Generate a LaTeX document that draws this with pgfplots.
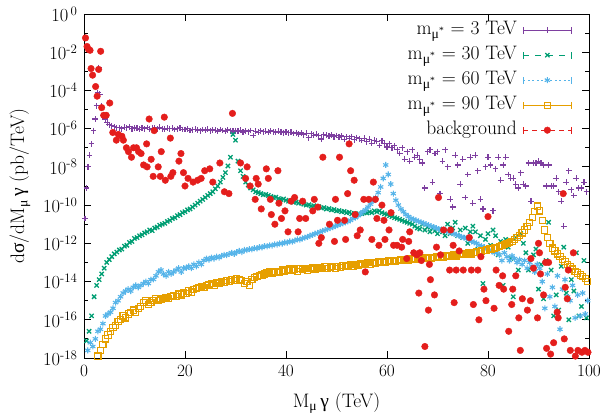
\documentclass[border=0pt]{standalone}
\usepackage{pgfplots}
\pgfplotsset{compat=1.18}
\usepackage{fontspec}
\newfontfamily\gr{Liberation Serif}
\definecolor{pcol}{RGB}{126,63,160}
\definecolor{gcol}{RGB}{0,158,115}
\definecolor{bcol}{RGB}{86,180,233}
\definecolor{ocol}{RGB}{230,159,0}
\definecolor{rcol}{RGB}{228,30,28}
\begin{document}
\begin{tikzpicture}
\useasboundingbox (-84pt,-59pt) rectangle (524pt,358pt);
\begin{axis}[
  scale only axis, width=505pt, height=344pt,
  xmin=0, xmax=100, ymin=1e-18, ymax=1,
  ymode=log,
  xtick={0,20,40,60,80,100},
  ytick={1e-18,1e-16,1e-14,1e-12,1e-10,1e-8,1e-6,1e-4,1e-2,1},
  yticklabels={10\textsuperscript{-18},10\textsuperscript{-16},10\textsuperscript{-14},10\textsuperscript{-12},10\textsuperscript{-10},10\textsuperscript{-8},10\textsuperscript{-6},10\textsuperscript{-4},10\textsuperscript{-2},10\textsuperscript{\,0}},
  minor ytick={1e-17,1e-15,1e-13,1e-11,1e-9,1e-7,1e-5,1e-3,1e-1},
  minor xtick={},
  tick align=inside,
  major tick length=7pt, minor tick length=4pt,
  every tick/.style={black, line width=0.8pt},
  axis line style={line width=0.9pt},
  xticklabel style={font=\fontsize{18.5}{18}\selectfont, yshift=-4pt},
  yticklabel style={font=\fontsize{18.5}{18}\selectfont, xshift=-3pt},
  xlabel={M\textsubscript{\gr μ}\,{\gr γ} (TeV)},
  ylabel={d{\gr σ}/dM\textsubscript{\gr μ}\,{\gr γ} (pb/TeV)},
  xlabel style={font=\fontsize{19.5}{20}\selectfont, at={(axis description cs:0.5,-0.131)}, anchor=center},
  ylabel style={font=\fontsize{19.5}{20}\selectfont, at={(axis description cs:-0.127,0.5)}, anchor=center},
  legend style={draw=none, fill=none, at={(1,1)}, anchor=north east, xshift=-14pt, yshift=-4pt,
    font=\fontsize{19.5}{20}\selectfont, row sep=5pt, column sep=5pt,
    nodes={inner sep=1pt, text height=13pt, text depth=5pt}},
  legend cell align=right,
  legend plot pos=right,
]
% m = 3 TeV
\addplot[only marks, mark=+, color=pcol, mark size=2.9pt, line width=1.15pt,
  legend image code/.code={
    \draw[pcol,line width=0.9pt] (0pt,0pt) -- (48pt,0pt) (0pt,-3.5pt) -- (0pt,3.5pt) (48pt,-3.5pt) -- (48pt,3.5pt);
    \draw[pcol,line width=1.1pt,mark=+,mark size=2.9pt] plot coordinates {(24pt,0pt)};
  }] coordinates {
(0.2,2.0e-11)(0.5,7.9e-10)(0.8,1e-8)(1.1,4.0e-8)(1.5,1.6e-7)(1.9,7.9e-7)(2.2,3.2e-6)(2.5,1.6e-5)(2.7,7.9e-5)(2.9,1.6e-3)
(3.1,6.3e-5)(3.4,1.6e-5)(3.8,5.0e-6)(4.2,3.2e-6)(4.6,2.0e-6)(5.0,1.6e-6)(5.5,1.4e-6)(6.0,1.26e-6)(6.5,1.12e-6)(7.0,1.1e-6)(7.5,1.0e-6)
(8.0,1.2e-6)(8.5,1.1e-6)(9.0,1.25e-6)(9.5,1.0e-6)(10.0,1.12e-6)(10.5,1.05e-6)(11.0,9.5e-7)(11.5,1.1e-6)(12.0,1.0e-6)(12.5,1.15e-6)
(13.0,9.2e-7)(13.5,1.04e-6)(14.0,1.08e-6)(14.5,9.7e-7)(15.0,1.2e-6)(15.5,1.0e-6)(16.0,9.4e-7)(16.5,1.07e-6)(17.0,9.9e-7)(17.5,1.05e-6)
(18.0,9.0e-7)(18.5,1.0e-6)(19.0,1.1e-6)(19.5,9.1e-7)(20.0,9.1e-7)(20.5,9.8e-7)(21.0,8.1e-7)(21.5,8.9e-7)(22.0,9.5e-7)(22.5,8.5e-7)
(23.0,7.8e-7)(23.5,9.1e-7)(24.0,8.3e-7)(24.5,9.3e-7)(25.0,7.9e-7)(25.5,8.7e-7)(26.0,8.2e-7)(26.5,7.5e-7)(27.0,9.0e-7)(27.5,8.0e-7)
(28.0,7.6e-7)(28.5,8.5e-7)(29.0,7.9e-7)(29.5,7.2e-7)(30.0,7.9e-7)(30.5,7.3e-7)(31.0,8.2e-7)(31.5,6.7e-7)(32.0,7.5e-7)(32.5,7.0e-7)
(33.0,8.0e-7)(33.5,4.4e-7)(34.0,7.4e-7)(34.5,6.6e-7)(35.0,7.7e-7)(35.5,6.8e-7)(36.0,7.3e-7)(36.5,6.4e-7)(37.0,7.6e-7)(37.5,6.9e-7)
(38.0,6.5e-7)(38.5,7.3e-7)(39.0,6.7e-7)(39.5,6.2e-7)(40.0,6.7e-7)(40.5,6.0e-7)(41.0,6.5e-7)(41.5,5.6e-7)(42.0,6.2e-7)(42.5,5.3e-7)
(43.0,5.9e-7)(43.5,4.8e-7)(44.0,5.7e-7)(44.5,3.4e-7)(45.0,5.4e-7)(45.5,4.6e-7)(46.0,5.2e-7)(46.5,4.3e-7)(47.0,2.9e-7)(47.5,4.8e-7)
(48.0,4.5e-7)(48.5,4.0e-7)(49.0,4.7e-7)(49.5,3.8e-7)(50.0,4.4e-7)(50.5,3.5e-7)(51.0,4.1e-7)(51.5,2.8e-7)(52.0,3.7e-7)(52.5,3.2e-7)
(53.0,3.9e-7)(53.5,2.6e-7)(54.0,3.4e-7)(54.5,3.0e-7)(55.0,2.4e-7)(55.5,3.2e-7)(56.0,2.1e-7)(56.5,2.8e-7)(57.0,1.7e-7)(57.5,2.5e-7)
(58.0,2.2e-7)(58.5,1.3e-7)(59.0,2.3e-7)(59.5,1.7e-7)(60.0,1.1e-7)
(60.5,1.6e-7)(61,1e-7)(61.5,1.26e-7)(62,7.9e-8)(62.5,5.0e-8)(63,1.0e-7)(63.5,2.5e-8)(64,6.3e-8)(64.5,2.0e-8)(65,7.9e-8)
(65.5,3.2e-8)(66,4.0e-8)(66.5,2.5e-8)(67,1.6e-8)(67.5,7.9e-10)(68,6.3e-8)(68.5,7.9e-8)(69,1.6e-9)(69.5,5.0e-8)(70,6.3e-8)
(70.5,4.0e-10)(71,2.0e-8)(71.5,7.9e-8)(72,1e-8)(72.5,2.0e-10)(73,7.9e-11)(73.5,4.0e-8)(74,1.26e-8)(74.5,1.26e-9)(75,2.5e-8)
(75.5,2.5e-10)(76,4.0e-9)(76.5,3.2e-8)(77,1.26e-10)(77.5,4.0e-8)(78,6.3e-9)(78.5,2.0e-10)(79,6.3e-11)(79.5,1e-8)(80,3.2e-8)
(80.5,1.26e-8)(81,5.0e-11)(81.5,7.9e-9)(82,3.2e-8)(82.5,2.0e-9)(83,1.26e-8)(83.5,3.2e-8)(84,4.0e-9)(84.5,2.5e-9)(85,2.5e-9)
(85.5,1.26e-9)(86,7.9e-10)(86.5,5.0e-9)(87,1.26e-9)(87.5,1e-9)(88,1.6e-8)(88.5,1.6e-10)(89,1.6e-8)(89.5,1.6e-8)(90,2.0e-8)
(90.5,1.6e-8)(91,1.26e-8)(91.5,1e-9)(92,1.26e-8)(92.5,1e-9)(93,1e-9)(93.5,2.5e-9)(94,5.0e-10)(94.5,1.6e-10)(95,7.9e-12)
(95.5,1.6e-9)(96,6.3e-9)(96.5,6.3e-10)(97,3.2e-10)(97.5,2.5e-9)(98,7.9e-10)(98.5,7.9e-10)(99,1.6e-9)(99.5,5.0e-10)
};
\addlegendentry{m\textsubscript{\gr μ\textsuperscript{*}} = 3 TeV}
% m = 30 TeV
\addplot[only marks, mark=x, color=gcol, mark size=3pt, line width=1.3pt,
  legend image code/.code={
    \draw[gcol,line width=0.9pt,dash pattern=on 6pt off 6pt] (0pt,0pt) -- (48pt,0pt);
    \draw[gcol,line width=0.9pt] (0pt,-3.5pt) -- (0pt,3.5pt) (48pt,-3.5pt) -- (48pt,3.5pt);
    \draw[gcol,line width=1.2pt,mark=x,mark size=3pt] plot coordinates {(24pt,0pt)};
  }] coordinates {
(0.5,7.9e-18)(1.0,2.5e-17)(1.5,1.6e-16)(2.0,1.6e-15)(2.5,6.3e-15)(3.0,1.26e-14)(3.5,2.5e-14)(4.0,5.0e-14)(4.5,1e-13)(5.0,1.4e-13)
(5.5,2.0e-13)(6.0,2.8e-13)(6.5,3.5e-13)(7.0,4.5e-13)(7.5,5.0e-13)(8.0,7.1e-13)(8.5,7.9e-13)(9.0,1.12e-12)(9.5,1.26e-12)(10.0,1.8e-12)
(10.5,2.0e-12)(11.0,2.5e-12)(11.5,2.8e-12)(12.0,3.5e-12)(12.5,4.0e-12)(13.0,5.0e-12)(13.5,4.6e-12)(14.0,6.3e-12)(14.5,7.1e-12)(15.0,8.9e-12)
(15.5,1.0e-11)(16.0,1.12e-11)(16.5,1.4e-11)(17.0,1.6e-11)(17.5,2.0e-11)(18.0,2.2e-11)(18.5,2.8e-11)(19.0,3.2e-11)(19.5,4.0e-11)(20.0,4.5e-11)
(20.5,5.6e-11)(21.0,6.3e-11)(21.5,7.9e-11)(22.0,1.0e-10)(22.5,1.26e-10)(23.0,1.6e-10)(23.5,2.0e-10)(24.0,2.5e-10)(24.5,3.2e-10)(25.0,4.0e-10)
(25.5,5.0e-10)(26.0,7.1e-10)(26.5,1.0e-9)(27.0,1.6e-9)(27.5,2.8e-9)(28.0,5.0e-9)(28.5,1.12e-8)(29.0,3.2e-8)(29.5,5.0e-7)(30.0,2.5e-7)
(30.5,2.0e-8)(31.0,6.3e-9)(31.5,3.2e-9)(32.0,1.6e-9)(32.5,1.12e-9)(33.0,7.9e-10)(33.5,6.3e-10)(34.0,5.0e-10)(34.5,4.5e-10)(35.0,4.0e-10)
(35.5,3.5e-10)(36.0,3.6e-10)(36.5,3.2e-10)(37.0,2.8e-10)(37.5,2.5e-10)(38.0,2.6e-10)(38.5,2.2e-10)(39.0,2.0e-10)(39.5,2.1e-10)(40.0,1.8e-10)
(40.5,1.6e-10)(41,1.65e-10)(41.5,1.4e-10)(42,1.45e-10)(42.5,1.26e-10)(43,1.3e-10)(43.5,1.12e-10)(44,1.0e-10)(44.5,1.05e-10)(45,8.9e-11)
(45.5,9.3e-11)(46,7.9e-11)(46.5,8.2e-11)(47,7.1e-11)(47.5,7.4e-11)(48,6.3e-11)(48.5,6.6e-11)(49,5.6e-11)(49.5,5.9e-11)(50,5.0e-11)
(50.5,5.2e-11)(51,4.5e-11)(51.5,4.7e-11)(52,4.0e-11)(52.5,4.2e-11)(53,3.5e-11)(53.5,3.7e-11)(54,3.2e-11)(54.5,3.5e-11)(55,3.6e-11)
(55.5,4.0e-11)(56,3.9e-11)(56.5,4.4e-11)(57,4.0e-11)(57.5,5.0e-11)(58,4.5e-11)(58.5,5.0e-11)(59,4.0e-11)(59.5,3.5e-11)(60,3.2e-11)
(60.5,2.8e-11)(61,2.5e-11)(61.5,2.2e-11)(62,2.0e-11)(62.5,1.8e-11)(63,1.6e-11)(63.5,1.4e-11)(64,1.26e-11)(64.5,1.12e-11)(65,1.0e-11)
(65.5,7.9e-12)(66,6.3e-12)(66.5,5.6e-12)(67,1.0e-11)(67.5,5.0e-12)(68,7.1e-12)(68.5,4.0e-12)(69,6.3e-12)(69.5,4.5e-12)(70,3.2e-12)
(70.5,5.6e-12)(71,4.0e-12)(71.5,2.5e-12)
(72,1e-11)(72.5,3.2e-12)(73,6.3e-12)(73.5,1.26e-11)(74,2.5e-12)(74.5,5.0e-12)(75,2.0e-12)(75.5,6.3e-12)(76,1e-12)(76.5,4.0e-12)
(77,7.9e-12)(77.5,4.0e-12)(78,5.0e-13)(78.5,2.5e-12)(79,7.9e-15)(79.5,1.6e-12)(80,3.2e-12)(80.5,7.9e-13)(81,5.0e-12)(81.5,2.5e-12)
(82,2.5e-13)(82.5,1.26e-12)(83,6.3e-15)(83.5,1.6e-12)(84,6.3e-13)(84.5,1.6e-13)(85,1.6e-15)(85.5,2.0e-12)(86,4.0e-14)(86.5,3.2e-12)
(87,1e-12)(87.5,3.2e-13)(88,4.0e-14)(88.5,1e-15)(89,2.5e-13)(89.5,5.0e-13)(90,4.0e-15)(90.5,7.9e-14)(91,1.26e-15)(91.5,1.26e-13)
(92,1.26e-11)(92.5,4.0e-14)(93,1.6e-16)(93.5,2.0e-15)(94,3.2e-16)(94.5,6.3e-14)(95,6.3e-13)(95.5,2.5e-15)(96,1e-16)(96.5,1.26e-14)
(97,3.2e-15)(97.5,3.2e-13)(98,1.6e-16)(98.5,5.0e-16)(99,1.26e-13)(99.5,1.26e-16)
};
\addlegendentry{m\textsubscript{\gr μ\textsuperscript{*}} = 30 TeV}
% m = 60 TeV
\addplot[only marks, mark=asterisk, color=bcol, mark size=3pt, line width=1.1pt,
  legend image code/.code={
    \draw[bcol,line width=0.9pt,dash pattern=on 2pt off 2.5pt] (0pt,0pt) -- (48pt,0pt);
    \draw[bcol,line width=0.9pt] (0pt,-3.5pt) -- (0pt,3.5pt) (48pt,-3.5pt) -- (48pt,3.5pt);
    \draw[bcol,line width=1.1pt,mark=asterisk,mark size=3pt] plot coordinates {(24pt,0pt)};
  }] coordinates {
(0.75,2.5e-18)(1.25,6.3e-18)(1.75,4.0e-18)(2.25,1e-17)(2.75,2.5e-17)(3.25,3.2e-17)(3.75,6.3e-17)(4.25,1.6e-16)(4.75,2.0e-16)(5.25,2.5e-16)
(5.75,4.0e-16)(6.25,7.9e-16)(6.75,1e-15)(7.25,1.6e-15)(7.75,2.5e-15)(8.25,3.2e-15)(8.75,4.0e-15)(9.25,3.2e-15)(9.75,5.0e-15)(10.25,6.3e-15)
(10.75,5.0e-15)(11.25,6.3e-15)(11.75,7.9e-15)(12.25,1e-14)(12.75,7.9e-15)(13.25,1.26e-14)(13.75,1.3e-14)(14.25,2.0e-14)(14.75,3.2e-14)(15.25,4.0e-14)
(15.75,2.5e-14)(16.25,2.0e-14)(16.75,3.2e-14)(17.25,2.5e-14)(17.75,3.2e-14)(18.25,4.0e-14)(18.75,5.0e-14)(19.25,3.2e-14)(19.75,5.0e-14)(20.25,5.2e-14)
(20.75,6.3e-14)(21.25,5.0e-14)(21.75,7.9e-14)(22.25,6.3e-14)(22.75,1e-13)(23.25,7.9e-14)(23.75,1.26e-13)(24.25,1.6e-13)(24.75,1.4e-13)(25.25,1.8e-13)
(25.75,1.6e-13)(26.25,2.0e-13)(26.75,1.8e-13)(27.25,2.2e-13)(27.75,2.5e-13)(28.25,2.4e-13)(28.75,2.8e-13)(29.25,3.2e-13)(29.75,2.8e-13)(30.25,3.5e-13)
(30.75,4.0e-13)(31.25,3.5e-13)(31.75,4.5e-13)(32.25,4.4e-13)(32.75,5.0e-13)(33.25,4.8e-13)(33.75,5.6e-13)(34.25,5.4e-13)(34.75,6.3e-13)(35.25,6.1e-13)
(35.75,7.1e-13)(36.25,6.9e-13)(36.75,7.9e-13)(37.25,7.7e-13)(37.75,8.9e-13)(38.25,8.6e-13)(38.75,1e-12)(39.25,9.7e-13)(39.75,1.12e-12)(40.25,1.1e-12)
(40.75,1.26e-12)(41.25,1.22e-12)(41.75,1.4e-12)(42.25,1.6e-12)(42.75,1.55e-12)(43.25,1.8e-12)(43.75,2.0e-12)(44.25,2.2e-12)(44.75,2.5e-12)(45.25,2.8e-12)
(45.75,3.2e-12)(46.25,3.5e-12)(46.75,4.0e-12)(47.25,4.5e-12)(47.75,5.0e-12)(48.25,5.6e-12)(48.75,6.3e-12)(49.25,7.1e-12)(49.75,7.9e-12)(50.25,8.9e-12)
(50.75,1e-11)(51.25,1.12e-11)(51.75,1.26e-11)(52.25,1.4e-11)(52.75,1.6e-11)(53.25,2.0e-11)(53.75,2.2e-11)(54.25,2.8e-11)(54.75,3.5e-11)(55.25,4.5e-11)
(55.75,5.6e-11)(56.25,7.9e-11)(56.75,1.12e-10)(57.25,1.6e-10)(57.75,2.5e-10)(58.25,4.5e-10)(58.75,8.9e-10)(59.25,2.5e-9)(59.75,1.26e-8)(60.25,4.0e-9)
(60.75,1.26e-9)(61.25,4.0e-10)(61.75,1.8e-10)(62.25,1e-10)(62.75,6.3e-11)(63.25,4.5e-11)(63.75,3.2e-11)(64.25,2.5e-11)(64.75,2.0e-11)(65.25,1.8e-11)
(65.75,1.6e-11)(66.25,1.4e-11)(66.75,1.26e-11)(67.25,1.12e-11)(67.75,1e-11)(68.25,8.9e-12)(68.75,7.9e-12)(69.25,7.1e-12)(69.75,6.3e-12)(70.25,5.6e-12)
(70.75,5.0e-12)(71.25,4.8e-12)(71.75,4.5e-12)(72.25,4.0e-12)(72.75,3.5e-12)(73.25,3.2e-12)(73.75,2.8e-12)(74.25,2.5e-12)(74.75,2.2e-12)(75.25,2.0e-12)
(75.75,1.8e-12)(76.25,1.6e-12)(76.75,1.26e-12)(77.25,1.12e-12)(77.75,1e-12)(78.25,7.9e-13)(78.75,7.1e-13)(79.25,6.3e-13)(79.75,5.0e-13)(80.25,4.5e-13)
(80.75,4.0e-13)(81.25,3.2e-13)(81.75,3.5e-13)(82.25,2.5e-13)(82.75,1.26e-13)(83.25,3.2e-13)(83.75,2.0e-13)(84.25,1.26e-13)(84.75,2.2e-13)(85.25,1.6e-13)
(85.75,1e-13)(86.25,1.4e-13)(86.75,7.9e-14)(87.25,1.26e-13)(87.75,5.0e-14)(88.25,1e-13)(88.75,6.3e-14)(89.25,3.2e-14)(89.75,7.9e-14)(90.25,5.0e-14)
(90.75,1e-14)(91.25,4.0e-16)(91.75,2.5e-14)(92.25,1.6e-15)(92.75,5.0e-15)(93.25,5.0e-16)(93.75,2.0e-14)(94.25,3.2e-17)(94.75,4.0e-15)(95.25,1.26e-14)
(95.75,1.6e-15)(96.25,1e-15)(96.75,6.3e-15)(97.25,1.26e-16)(97.75,2.0e-15)(98.25,1.6e-16)(98.75,2.5e-15)(99.25,2.0e-16)(99.75,1e-15)
};
\addlegendentry{m\textsubscript{\gr μ\textsuperscript{*}} = 60 TeV}
% m = 90 TeV
\addplot[only marks, mark=square, color=ocol, mark size=3.1pt, line width=1.1pt,
  legend image code/.code={
    \draw[ocol,line width=0.9pt] (0pt,0pt) -- (48pt,0pt) (0pt,-3.5pt) -- (0pt,3.5pt) (48pt,-3.5pt) -- (48pt,3.5pt);
    \draw[ocol,line width=1.1pt,mark=square,mark size=3.1pt,mark options={fill=white}] plot coordinates {(24pt,0pt)};
  }] coordinates {
(2.75,1.26e-18)(3.25,2.5e-18)(3.75,5.0e-18)(4.25,1e-17)(4.75,1.6e-17)(5.25,2.5e-17)(5.75,4.0e-17)(6.25,5.0e-17)(6.75,7.9e-17)(7.25,1e-16)
(7.75,1.6e-16)(8.25,1.26e-16)(8.75,2.0e-16)(9.25,2.5e-16)(9.75,3.2e-16)(10.25,2.5e-16)(10.75,4.0e-16)(11.25,5.0e-16)(11.75,7.9e-16)(12.25,1e-15)
(12.75,6.3e-16)(13.25,7.9e-16)(13.75,1e-15)(14.25,1.26e-15)(14.75,1e-15)(15.25,1.12e-15)(15.75,1.26e-15)(16.25,1.4e-15)(16.75,1.26e-15)(17.25,1.6e-15)
(17.75,1.8e-15)(18.25,1.6e-15)(18.75,2.2e-15)(19.25,2.0e-15)(19.75,2.5e-15)(20.25,2.4e-15)(20.75,3.2e-15)(21.25,2.8e-15)(21.75,4.0e-15)(22.25,4.5e-15)
(22.75,5.0e-15)(23.25,5.6e-15)(23.75,5.0e-15)(24.25,6.3e-15)(24.75,7.1e-15)(25.25,7.9e-15)(25.75,6.3e-15)(26.25,8.9e-15)(26.75,7.9e-15)(27.25,1e-14)
(27.75,8.9e-15)(28.25,1.12e-14)(28.75,1e-14)(29.25,1.26e-14)(29.75,1.12e-14)(30.25,1.4e-14)(30.75,1.26e-14)(31.25,1.12e-14)(31.75,7.9e-15)(32.25,1e-14)
(32.75,6.3e-15)(33.25,1.26e-14)(33.75,1.6e-14)(34.25,1.8e-14)(34.75,2.0e-14)(35.25,2.2e-14)(35.75,2.5e-14)(36.25,2.8e-14)(36.75,3.2e-14)(37.25,2.8e-14)
(37.75,3.2e-14)(38.25,3.5e-14)(38.75,3.1e-14)(39.25,4.0e-14)(39.75,3.5e-14)(40.25,4.0e-14)(40.75,4.5e-14)(41.25,3.9e-14)(41.75,4.5e-14)(42.25,3.5e-14)
(42.75,5.0e-14)(43.25,4.5e-14)(43.75,5.0e-14)(44.25,4.0e-14)(44.75,5.0e-14)(45.25,5.6e-14)(45.75,4.5e-14)(46.25,5.0e-14)(46.75,5.6e-14)(47.25,5.0e-14)
(47.75,6.3e-14)(48.25,5.0e-14)(48.75,5.6e-14)(49.25,6.3e-14)(49.75,5.0e-14)(50.25,6.3e-14)(50.75,5.6e-14)(51.25,7.1e-14)(51.75,6.3e-14)(52.25,7.1e-14)
(52.75,7.9e-14)(53.25,6.3e-14)(53.75,7.9e-14)(54.25,7.1e-14)(54.75,8.9e-14)(55.25,7.9e-14)(55.75,8.9e-14)(56.25,1e-13)(56.75,7.9e-14)(57.25,1e-13)
(57.75,8.9e-14)(58.25,1.12e-13)(58.75,1e-13)(59.25,1.12e-13)(59.75,1e-13)(60.25,1.26e-13)(60.75,1.12e-13)(61.25,1.26e-13)(61.75,1.12e-13)(62.25,1.26e-13)
(62.75,1.4e-13)(63.25,1.26e-13)(63.75,1.4e-13)(64.25,1.3e-13)(64.75,1.6e-13)(65.25,1.4e-13)(65.75,1.6e-13)(66.25,1.45e-13)(66.75,1.6e-13)(67.25,1.8e-13)
(67.75,1.6e-13)(68.25,1.8e-13)(68.75,1.65e-13)(69.25,1.8e-13)(69.75,2.0e-13)(70.25,1.8e-13)(70.75,2.0e-13)(71.25,1.9e-13)(71.75,2.2e-13)(72.25,2.0e-13)
(72.75,2.2e-13)(73.25,2.5e-13)(73.75,2.2e-13)(74.25,2.5e-13)(74.75,2.8e-13)(75.25,2.5e-13)(75.75,2.8e-13)(76.25,3.2e-13)(76.75,2.8e-13)(77.25,3.2e-13)
(77.75,3.5e-13)(78.25,3.6e-13)(78.75,4.0e-13)(79.25,4.1e-13)(79.75,4.5e-13)(80.25,5.0e-13)(80.75,5.1e-13)(81.25,5.6e-13)(81.75,6.3e-13)(82.25,7.1e-13)
(82.75,7.9e-13)(83.25,8.9e-13)(83.75,1e-12)(84.25,1.12e-12)(84.75,1.26e-12)(85.25,1.6e-12)(85.75,2.0e-12)(86.25,2.5e-12)(86.75,3.5e-12)(87.25,5.0e-12)
(87.75,7.9e-12)(88.25,1.26e-11)(88.75,2.2e-11)(89.25,4.5e-11)(89.75,8.9e-11)(90.25,5.0e-11)(90.75,1.6e-11)(91.25,5.0e-12)(91.75,2.0e-12)(92.25,1e-12)
(92.75,5.6e-13)(93.25,4.0e-13)(93.75,2.8e-13)(94.25,2.0e-13)(94.75,1.4e-13)(95.25,1.12e-13)(95.75,7.9e-14)(96.25,6.3e-14)(96.75,4.5e-14)(97.25,3.5e-14)
(97.75,2.8e-14)(98.25,2.2e-14)(98.75,1.8e-14)(99.25,1.4e-14)(99.75,1e-14)
};
\addlegendentry{m\textsubscript{\gr μ\textsuperscript{*}} = 90 TeV}
% background
\addplot[only marks, mark=*, color=rcol, mark size=3.3pt, mark options={draw=rcol, fill=rcol},
  legend image code/.code={
    \draw[rcol,line width=0.9pt,dash pattern=on 5pt off 4pt] (0pt,0pt) -- (48pt,0pt);
    \draw[rcol,line width=0.9pt] (0pt,-3.5pt) -- (0pt,3.5pt) (48pt,-3.5pt) -- (48pt,3.5pt);
    \draw[rcol,mark=*,mark size=3.3pt,mark options={fill=rcol}] plot coordinates {(24pt,0pt)};
  }] coordinates {
(0.3,5.6e-2)(0.6,2.0e-2)(0.9,1.4e-2)(1.2,1.26e-2)(1.4,1.4e-3)(1.7,6.3e-4)(2.3,1.6e-4)(2.6,5.0e-5)(2.9,1.26e-3)(3.3,1.12e-2)
(3.5,1.26e-5)(3.9,5.0e-6)(4.4,5.0e-6)(5.1,2.2e-5)(5.7,6.3e-7)(6.4,2.5e-7)(6.8,5.0e-7)(7.5,4.0e-7)(7.8,2.5e-7)(8.4,1e-7)
(8.8,6.3e-8)(9.4,3.2e-8)(9.8,1e-7)(10.4,1e-7)(10.8,6.3e-8)(11.3,5.0e-8)(11.8,1.26e-8)(12.4,1.6e-7)(12.5,1e-8)(12.9,3.2e-6)
(13.3,2.5e-8)(13.7,3.2e-9)(13.9,7.9e-7)(14.7,1e-8)(15.1,3.2e-9)(15.3,6.3e-8)(15.9,4.0e-6)(16.1,2.0e-9)(17.1,3.2e-7)(17.2,3.2e-9)
(17.6,5.0e-9)(18.8,2.0e-8)(19.2,5.0e-8)(19.7,5.0e-9)(20.0,1e-9)(20.6,2.5e-9)(21.6,1.6e-9)(22.5,2.0e-9)(23.2,2.5e-9)(23.9,6.3e-9)
(24.9,7.9e-9)(25.5,1.6e-9)(26.9,1.6e-8)(27.8,5.0e-10)(28.7,4.0e-10)(29.4,6.3e-6)(31,1.6e-8)(32,2.5e-9)(32.3,1e-8)(32.9,1e-9)
(33.9,2.0e-10)(34.1,2.5e-9)(34.5,1.26e-9)(35.1,6.3e-11)(36.1,7.9e-9)(36.5,2.5e-9)(36.9,2.0e-10)(37.1,3.2e-11)(37.8,1e-11)(38.4,6.3e-9)
(38.6,1.26e-10)(39.1,2.0e-11)(39.8,5.0e-11)(40.4,4.0e-12)(41.0,1.6e-10)(41.7,2.5e-10)(42.4,4.0e-12)(42.7,2.0e-11)(43.3,1.6e-10)(43.9,2.0e-11)
(45.3,5.0e-11)(45.6,2.0e-10)(46.3,7.9e-11)(46.5,1e-12)(47,2.0e-12)(47.3,3.2e-8)(48.6,1e-11)(49.6,1.26e-12)(49.8,2.0e-10)(50.2,1.6e-11)
(50.6,3.2e-8)(51.6,1.6e-11)(51.8,1.6e-12)(52.2,4.0e-10)(52.5,1.6e-7)(52.8,6.3e-9)(53.5,2.0e-9)(53.7,3.2e-11)(54.1,2.5e-12)(54.7,5.0e-12)
(55.4,2.0e-10)(55.7,3.2e-14)(56.4,2.0e-10)(57,1.6e-12)(57.3,1.6e-9)(57.7,2.0e-10)(58,2.0e-11)(58.4,7.9e-13)(59,1e-10)(59.4,1.6e-11)
(59.6,1.6e-12)(60.4,5.0e-12)(60.8,4.0e-11)(61.3,7.9e-13)(62,7.9e-13)(62.9,6.3e-13)(63.1,1.6e-12)(63.9,1.6e-13)(64.3,1.26e-12)(64.5,4.0e-12)
(65.3,3.2e-13)(65.9,2.5e-13)(66.3,2.5e-15)(66.5,3.2e-13)(66.8,1.26e-13)(67.5,4.0e-18)(68.2,3.2e-16)(68.4,7.9e-14)(68.6,1.26e-14)(69.4,2.0e-15)
(69.8,6.3e-13)(70.2,2.5e-10)(70.6,2.5e-13)(71.2,5.0e-12)(72.4,4.0e-14)(72.6,5.0e-12)(73.1,7.9e-13)(73.3,7.9e-16)(73.7,4.0e-14)(74.3,4.0e-13)
(75.1,4.0e-14)(76.3,2.0e-12)(76.7,4.0e-14)(77.1,6.3e-16)(78,4.0e-14)(78.2,1e-16)(78.6,2.0e-13)(79.2,4.0e-15)(79.6,1e-15)(80,2.5e-11)
(81.2,4.0e-16)(81.6,4.0e-14)(82.2,6.3e-15)(82.9,2.0e-14)(83.1,4.0e-15)(84.1,2.5e-17)(84.7,6.3e-16)(84.9,4.0e-15)(85.5,2.0e-14)(86.1,1.26e-16)
(86.4,2.5e-18)(86.8,1.26e-15)(87.8,3.2e-16)(88.4,1e-15)(88.5,1.6e-13)(89,5.0e-14)(89.8,1.26e-16)(90,1e-12)(90.2,3.2e-13)(90.4,2.5e-14)
(91,2.0e-15)(91.4,1e-13)(91.6,3.2e-18)(92,1e-13)(92.4,1.6e-18)(93,6.3e-18)(93.7,2.5e-16)(93.9,1.26e-16)(94.9,4.0e-10)(95.1,1e-17)
(95.3,5.0e-15)(95.7,1.26e-15)(95.9,4.0e-14)(96.3,2.5e-18)(96.9,3.2e-13)(97.3,1.26e-18)(97.8,2.5e-18)(98.6,2.0e-18)(99.2,2.5e-18)(99.8,2.0e-18)
};
\addlegendentry{background}
\end{axis}
\end{tikzpicture}
\end{document}
